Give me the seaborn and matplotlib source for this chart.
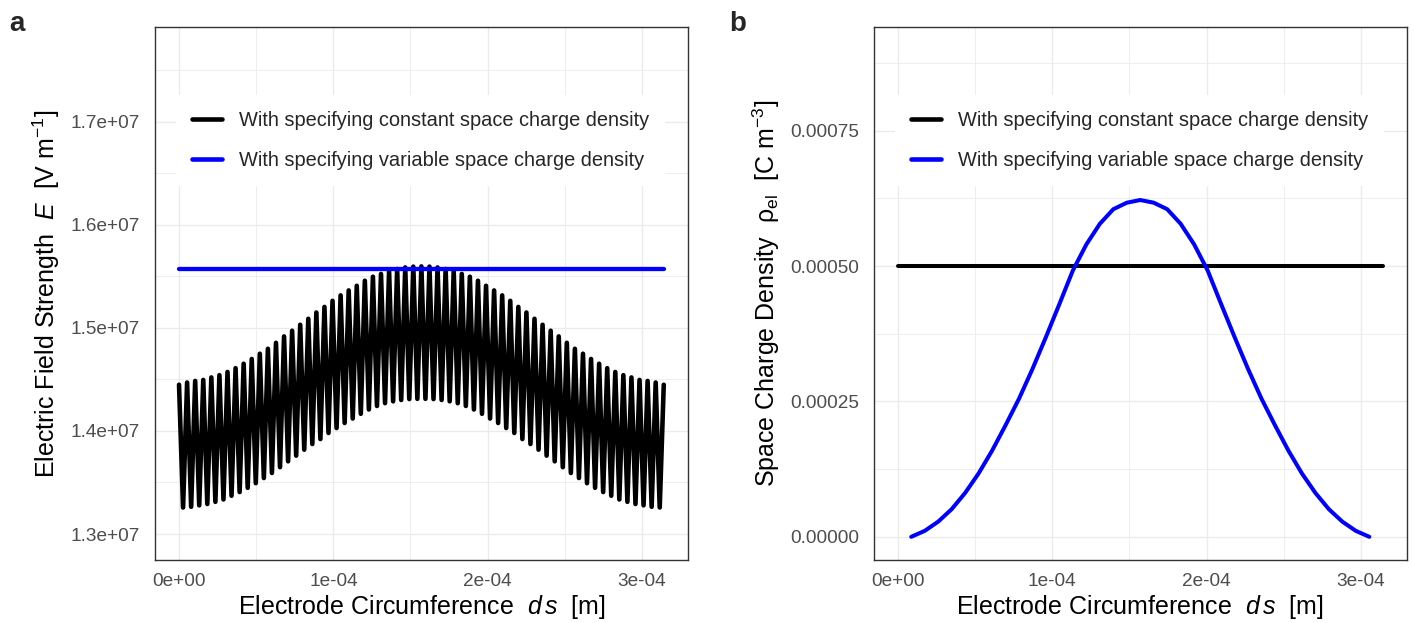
import numpy as np
import pandas as pd
import seaborn as sns
import matplotlib
matplotlib.use("Agg")
import matplotlib.pyplot as plt

# ---- values ----
S_END = 3.1416e-4  # electrode circumference [m]

# panel a: field strength, constant space charge (alternating peaks / troughs)
E_PEAKS = [
    1.4448e7, 1.4470e7, 1.4485e7, 1.4495e7, 1.4519e7, 1.4541e7, 1.4572e7, 1.4609e7,
    1.4652e7, 1.4698e7, 1.4749e7, 1.4797e7, 1.4855e7, 1.4917e7, 1.4972e7, 1.5030e7,
    1.5088e7, 1.5149e7, 1.5203e7, 1.5262e7, 1.5315e7, 1.5363e7, 1.5408e7, 1.5457e7,
    1.5496e7, 1.5523e7, 1.5552e7, 1.5571e7, 1.5586e7, 1.5594e7, 1.5596e7,
    1.5594e7, 1.5586e7, 1.5571e7, 1.5552e7, 1.5523e7, 1.5496e7, 1.5457e7, 1.5408e7,
    1.5363e7, 1.5315e7, 1.5262e7, 1.5203e7, 1.5149e7, 1.5088e7, 1.5030e7, 1.4972e7,
    1.4917e7, 1.4855e7, 1.4797e7, 1.4749e7, 1.4698e7, 1.4652e7, 1.4609e7, 1.4572e7,
    1.4541e7, 1.4519e7, 1.4495e7, 1.4485e7, 1.4470e7, 1.4448e7,
]
E_TROUGHS = [
    1.3257e7, 1.3264e7, 1.3278e7, 1.3291e7, 1.3312e7, 1.3335e7, 1.3371e7, 1.3407e7,
    1.3448e7, 1.3493e7, 1.3543e7, 1.3592e7, 1.3648e7, 1.3705e7, 1.3760e7, 1.3818e7,
    1.3873e7, 1.3921e7, 1.3980e7, 1.4028e7, 1.4077e7, 1.4120e7, 1.4166e7, 1.4208e7,
    1.4242e7, 1.4269e7, 1.4287e7, 1.4300e7, 1.4309e7, 1.4311e7,
    1.4311e7, 1.4309e7, 1.4300e7, 1.4287e7, 1.4269e7, 1.4242e7, 1.4208e7, 1.4166e7,
    1.4120e7, 1.4077e7, 1.4028e7, 1.3980e7, 1.3921e7, 1.3873e7, 1.3818e7, 1.3760e7,
    1.3705e7, 1.3648e7, 1.3592e7, 1.3543e7, 1.3493e7, 1.3448e7, 1.3407e7, 1.3371e7,
    1.3335e7, 1.3312e7, 1.3291e7, 1.3278e7, 1.3264e7, 1.3257e7,
]
E_VARIABLE = 1.5571e7

# panel b: space charge density
RHO_CONST = 5.0e-4
RHO_STEP = 0.08727e-4
RHO_VARIABLE = [
    0.00e-4, 0.11e-4, 0.28e-4, 0.51e-4, 0.81e-4, 1.17e-4, 1.59e-4, 2.06e-4, 2.55e-4,
    3.10e-4, 3.69e-4, 4.30e-4, 4.92e-4, 5.40e-4, 5.78e-4, 6.05e-4, 6.17e-4, 6.22e-4,
    6.17e-4, 6.05e-4, 5.78e-4, 5.40e-4, 4.92e-4, 4.30e-4, 3.69e-4, 3.10e-4, 2.55e-4,
    2.06e-4, 1.59e-4, 1.17e-4, 0.81e-4, 0.51e-4, 0.28e-4, 0.11e-4, 0.00e-4,
]

LABEL_CONST = "With specifying constant space charge density"
LABEL_VAR = "With specifying variable space charge density"

X_TICKS = [0, 1e-4, 2e-4, 3e-4]
X_TICKLABELS = ["0e+00", "1e-04", "2e-04", "3e-04"]
X_MINOR = [0.5e-4, 1.5e-4, 2.5e-4]
E_TICKS = [1.3e7, 1.4e7, 1.5e7, 1.6e7, 1.7e7]
E_TICKLABELS = ["1.3e+07", "1.4e+07", "1.5e+07", "1.6e+07", "1.7e+07"]
E_MINOR = [1.35e7, 1.45e7, 1.55e7, 1.65e7, 1.75e7]
RHO_TICKS = [0, 0.00025, 0.0005, 0.00075]
RHO_TICKLABELS = ["0.00000", "0.00025", "0.00050", "0.00075"]
RHO_MINOR = [0.000125, 0.000375, 0.000625, 0.000875]

# ---- tidy frames ----
n_pts = len(E_PEAKS) + len(E_TROUGHS)
e_const = np.empty(n_pts)
e_const[0::2] = E_PEAKS
e_const[1::2] = E_TROUGHS
df_e_const = pd.DataFrame({"s": np.linspace(0, S_END, n_pts), "E": e_const})
df_e_var = pd.DataFrame({"s": [0, S_END], "E": [E_VARIABLE, E_VARIABLE]})

df_rho_const = pd.DataFrame({"s": [0, S_END], "rho": [RHO_CONST, RHO_CONST]})
df_rho_var = pd.DataFrame({
    "s": np.linspace(RHO_STEP, RHO_STEP * len(RHO_VARIABLE), len(RHO_VARIABLE)),
    "rho": RHO_VARIABLE,
})

# ---- style ----
sns.set_theme(style="white")
plt.rcParams["font.family"] = ["Liberation Sans", "DejaVu Sans"]
plt.rcParams["mathtext.fontset"] = "custom"
plt.rcParams["mathtext.rm"] = "Liberation Sans"
plt.rcParams["mathtext.it"] = "Liberation Sans:italic"
plt.rcParams["mathtext.bf"] = "Liberation Sans:bold"

W, H = 1414, 623
fig = plt.figure(figsize=(W / 100, H / 100), dpi=100)
ax_a = fig.add_axes([154.8 / W, 1 - 560 / H, 533.2 / W, 533 / H])
ax_b = fig.add_axes([873.5 / W, 1 - 560 / H, 533.5 / W, 533 / H])

LW = 2.9
sns.lineplot(data=df_e_const, x="s", y="E", ax=ax_a, color="black", lw=3.3,
             estimator=None, sort=False, label=LABEL_CONST)
sns.lineplot(data=df_e_var, x="s", y="E", ax=ax_a, color="#0000FF", lw=3.1,
             estimator=None, label=LABEL_VAR)
for ln in ax_a.lines:
    ln.set_solid_joinstyle("round")

sns.lineplot(data=df_rho_const, x="s", y="rho", ax=ax_b, color="black", lw=LW,
             estimator=None, label=LABEL_CONST)
sns.lineplot(data=df_rho_var, x="s", y="rho", ax=ax_b, color="#0000FF", lw=LW,
             estimator=None, label=LABEL_VAR)
ax_b.lines[-1].set_solid_joinstyle("round")

x_lim = (-0.157e-4, 3.2987e-4)
ax_a.set_xlim(x_lim)
ax_b.set_xlim(x_lim)
ax_a.set_ylim(1.2748e7, 1.7918e7)
ax_b.set_ylim(-0.0428e-3, 0.9415e-3)

for ax, yt, ytl, ym in [(ax_a, E_TICKS, E_TICKLABELS, E_MINOR),
                        (ax_b, RHO_TICKS, RHO_TICKLABELS, RHO_MINOR)]:
    ax.set_xticks(X_TICKS)
    ax.set_xticklabels(X_TICKLABELS)
    ax.set_xticks(X_MINOR, minor=True)
    ax.set_yticks(yt)
    ax.set_yticklabels(ytl)
    ax.set_yticks(ym, minor=True)
    ax.set_axisbelow(True)
    ax.grid(which="major", color="#EBEBEB", lw=1.0)
    ax.grid(which="minor", color="#EBEBEB", lw=0.6)
    ax.tick_params(which="major", direction="out", length=3.6, width=0.9,
                   color="#333333", labelcolor="#4D4D4D", labelsize=13.7)
    ax.tick_params(axis="x", which="major", pad=5.7)
    ax.tick_params(axis="y", which="major", pad=7.0)
    ax.tick_params(which="minor", length=0)
    for sp in ax.spines.values():
        sp.set_color("#333333")
        sp.set_linewidth(1.0)
    ax.set_xlabel(r"Electrode Circumference  $d\,s$  [m]", fontsize=18, color="black")
    ax.xaxis.set_label_coords(0.5, -0.062)
    leg = ax.legend(loc="upper left", bbox_to_anchor=(0.0398, 0.872), borderaxespad=0,
                    frameon=True, facecolor="white", edgecolor="none", framealpha=1,
                    fancybox=False, fontsize=14.4, handlelength=1.5,
                    handletextpad=0.85, labelspacing=1.05, borderpad=0.8)
    for h in leg.get_lines():
        h.set_linewidth(3.3)

ax_a.set_ylabel(r"Electric Field Strength  $E$  [V m$^{-1}$]", fontsize=18, color="black")
ax_a.yaxis.set_label_coords(-0.174, 0.5)
ax_b.set_ylabel(r"Space Charge Density  $\mathrm{\rho}_{\mathrm{el}}$  [C m$^{-3}$]",
                fontsize=18, color="black")
ax_b.yaxis.set_label_coords(-0.172, 0.5)

fig.text(9 / W, 1 - 31 / H, "a", fontsize=20, fontweight="bold", ha="left", va="baseline")
fig.text(729 / W, 1 - 31 / H, "b", fontsize=20, fontweight="bold", ha="left", va="baseline")

fig.savefig("out.png", dpi=100, facecolor="white")
